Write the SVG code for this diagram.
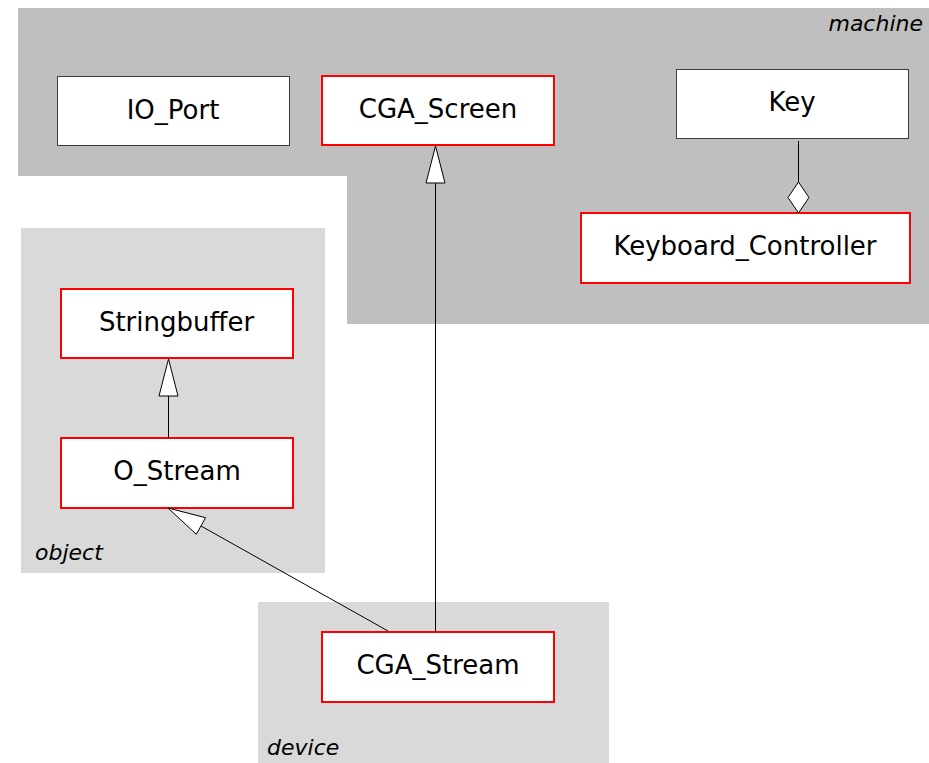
<svg xmlns="http://www.w3.org/2000/svg" width="929" height="763" viewBox="0 0 929 763">
  <style>
    .pkg-dark { fill: #bfbfbf; }
    .pkg-light { fill: #d9d9d9; }
    .cls { fill: #ffffff; stroke: #3c3c3c; stroke-width: 1; }
    .cls-hl { fill: #ffffff; stroke: #ff0000; stroke-width: 2; }
    .name { font-family: "DejaVu Sans", sans-serif; font-size: 26px; fill: #000000; text-anchor: middle; }
    .pkg-name { font-family: "DejaVu Sans", sans-serif; font-size: 22px; font-style: italic; fill: #000000; }
    .edge { stroke: #000000; stroke-width: 1; fill: none; }
    .head { fill: #ffffff; stroke: #000000; stroke-width: 1; }
  </style>

  <!-- packages -->
  <g id="pkg-machine">
    <polygon class="pkg-dark" points="18,8 929,8 929,324 347,324 347,176 18,176"/>
    <text class="pkg-name" x="923" y="31" text-anchor="end">machine</text>
  </g>
  <g id="pkg-object">
    <rect class="pkg-light" x="21" y="228" width="304" height="345"/>
    <text class="pkg-name" x="35" y="560">object</text>
  </g>
  <g id="pkg-device">
    <rect class="pkg-light" x="258" y="602" width="351" height="161"/>
    <text class="pkg-name" x="267" y="755">device</text>
  </g>

  <!-- classes -->
  <g id="IO_Port">
    <rect class="cls" x="57.5" y="76.5" width="232" height="69"/>
    <text class="name" x="173" y="119">IO_Port</text>
  </g>
  <g id="CGA_Screen">
    <rect class="cls-hl" x="322" y="76" width="232" height="69"/>
    <text class="name" x="438" y="118">CGA_Screen</text>
  </g>
  <g id="Key">
    <rect class="cls" x="676.5" y="69.5" width="232" height="69"/>
    <text class="name" x="792" y="111">Key</text>
  </g>
  <g id="Keyboard_Controller">
    <rect class="cls-hl" x="581" y="213" width="329" height="70"/>
    <text class="name" x="745" y="255">Keyboard_Controller</text>
  </g>
  <g id="Stringbuffer">
    <rect class="cls-hl" x="61" y="289" width="232" height="69"/>
    <text class="name" x="176.5" y="331">Stringbuffer</text>
  </g>
  <g id="O_Stream">
    <rect class="cls-hl" x="61" y="438" width="232" height="70"/>
    <text class="name" x="177" y="480">O_Stream</text>
  </g>
  <g id="CGA_Stream">
    <rect class="cls-hl" x="322" y="632" width="232" height="70"/>
    <text class="name" x="438" y="674">CGA_Stream</text>
  </g>

  <!-- connectors -->
  <g id="connectors">
    <!-- O_Stream generalizes Stringbuffer -->
    <line class="edge" x1="168.5" y1="438" x2="168.5" y2="396"/>
    <polygon class="head" points="168.5,359 178,396 159,396"/>

    <!-- CGA_Stream generalizes CGA_Screen -->
    <line class="edge" x1="435.5" y1="632" x2="435.5" y2="183"/>
    <polygon class="head" points="435.5,146 445,183 426,183"/>

    <!-- CGA_Stream generalizes O_Stream -->
    <line class="edge" x1="388" y1="631" x2="201" y2="526"/>
    <polygon class="head" points="168,508 205.6,517.7 196.3,534.3"/>

    <!-- Key aggregated by Keyboard_Controller -->
    <line class="edge" x1="798.5" y1="141" x2="798.5" y2="182"/>
    <polygon class="head" points="798.5,182 809,197.5 798.5,213 788,197.5"/>
  </g>
</svg>
